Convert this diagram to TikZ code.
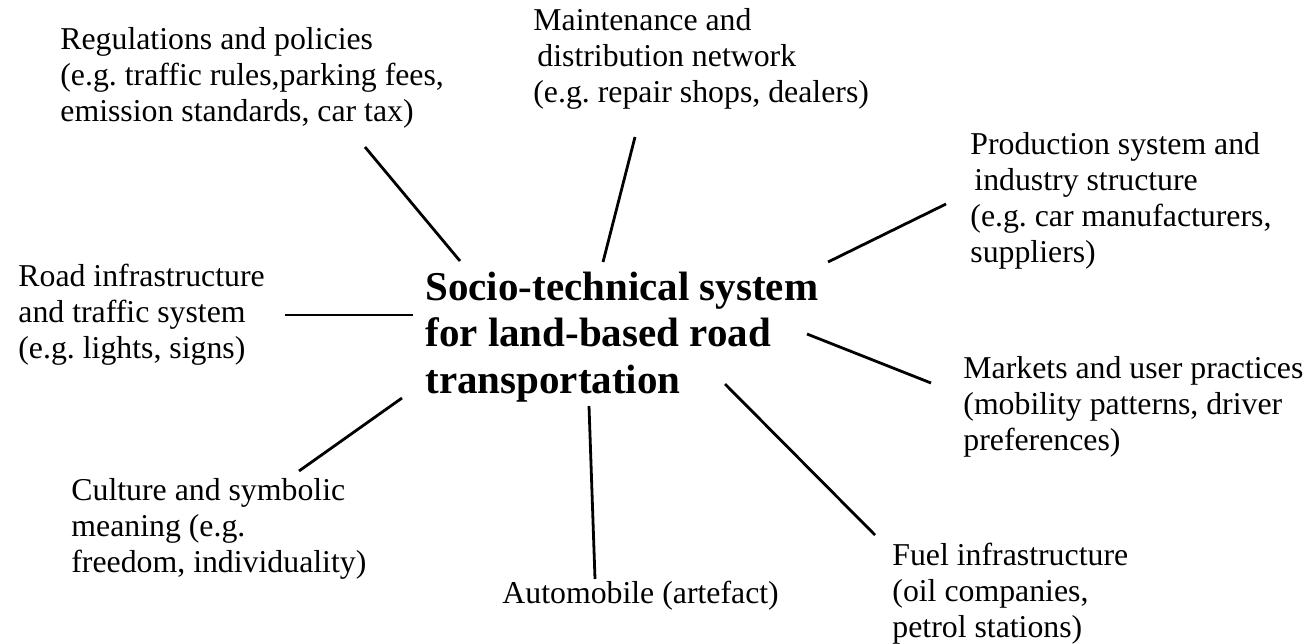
\documentclass[tikz,border=0pt]{standalone}
\usepackage{fontspec}
\setmainfont{Liberation Serif}
\frenchspacing
\newcommand{\sizefactor}{\fontsize{15.9}{18}\selectfont}
\newcommand{\sizehub}{\fontsize{20.5}{23.25}\selectfont}
\tikzset{
    factor/.style={anchor=base west, align=left, inner sep=0pt, font=\sizefactor},
    hub/.style={factor, font=\sizehub\bfseries},
    link/.style={line width=1.4pt}
}
\begin{document}
\begin{tikzpicture}[x=0.5pt, y=-0.5pt]
    \useasboundingbox (0,0) rectangle (1310,643);

    \node[hub] (STS) at (425,393) {Socio-technical system\\for land-based road\\transportation};

    \node[factor] (REG) at (60,121) {Regulations and policies\\(e.g. traffic rules,parking fees,\\emission standards, car tax)};
    \node[factor] (MAINT) at (533,102) {Maintenance and\\\hspace{2pt}distribution network\\(e.g. repair shops, dealers)};
    \node[factor] (PROD) at (970,262) {Production system and\\\hspace{2pt}industry structure\\(e.g. car manufacturers,\\suppliers)};
    \node[factor] (ROAD) at (18,358) {Road infrastructure\\and traffic system\\(e.g. lights, signs)};
    \node[factor] (MARK) at (963,450) {Markets and user practices\\(mobility patterns, driver\\preferences)};
    \node[factor] (CULT) at (71,572) {Culture and symbolic\\meaning (e.g.\\freedom, individuality)};
    \node[factor] (AUTO) at (502,603) {Automobile (artefact)};
    \node[factor] (FUEL) at (892,637) {Fuel infrastructure\\(oil companies,\\petrol stations)};

    \coordinate (REG-a) at (365,147);   \coordinate (REG-b) at (460,261);
    \coordinate (MAINT-a) at (635,137); \coordinate (MAINT-b) at (603,262);
    \coordinate (PROD-a) at (946,204);  \coordinate (PROD-b) at (828,262);
    \coordinate (ROAD-a) at (285,315);  \coordinate (ROAD-b) at (413,315);
    \coordinate (MARK-a) at (931,383);  \coordinate (MARK-b) at (807,334);
    \coordinate (CULT-a) at (299,471);  \coordinate (CULT-b) at (402,398);
    \coordinate (AUTO-a) at (595,579);  \coordinate (AUTO-b) at (589,406);
    \coordinate (FUEL-a) at (875,535);  \coordinate (FUEL-b) at (725,384);

    \draw[link] (REG-a) -- (REG-b);
    \draw[link] (MAINT-a) -- (MAINT-b);
    \draw[link] (PROD-a) -- (PROD-b);
    \draw[link] (ROAD-a) -- (ROAD-b);
    \draw[link] (MARK-a) -- (MARK-b);
    \draw[link] (CULT-a) -- (CULT-b);
    \draw[link] (AUTO-a) -- (AUTO-b);
    \draw[link] (FUEL-a) -- (FUEL-b);
\end{tikzpicture}
\end{document}
